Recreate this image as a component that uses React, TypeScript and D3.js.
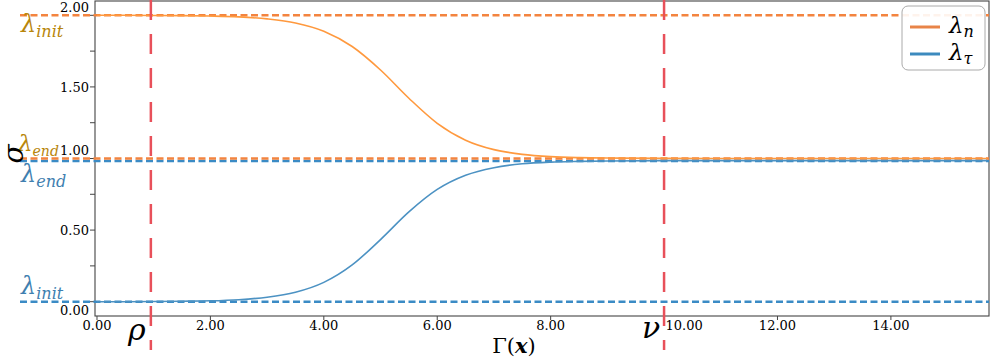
import React, { useEffect, useRef } from "react";
import * as d3 from "d3";

// sample positions along Γ(x) and the two curves
const gammaX = [0, 0.5, 1, 1.5, 2, 2.5, 3, 3.5, 4, 4.5, 5, 5.5, 6, 6.5, 7, 7.5, 8, 8.5, 9, 10, 11, 12, 13, 14, 15, 15.7];
const lambdaN = [2.0, 2.0, 1.999, 1.998, 1.995, 1.989, 1.975, 1.947, 1.889, 1.782, 1.618, 1.421, 1.246, 1.128, 1.062, 1.029, 1.013, 1.006, 1.003, 1.001, 1.0, 1.0, 1.0, 1.0, 1.0, 1.0];
const lambdaT = [0.0, 0.0, 0.001, 0.003, 0.006, 0.014, 0.031, 0.066, 0.135, 0.257, 0.434, 0.627, 0.784, 0.883, 0.936, 0.963, 0.975, 0.98, 0.983, 0.985, 0.985, 0.985, 0.985, 0.985, 0.985, 0.985];

// reference levels
const nInit = 2.0;
const nEnd = 1.0;
const tInit = 0.0;
const tEnd = 0.983;

// vertical markers
const rho = 0.95;
const nu = 10.0;

const xTicks = [0, 2, 4, 6, 8, 10, 12, 14];
const yTicks = [0, 0.25, 0.5, 0.75, 1, 1.25, 1.5, 1.75, 2];
const yLabelTicks = [0, 0.5, 1, 1.5, 2];

const W = 996;
const H = 359;
const FONT = "DejaVu Serif, serif";

const C_ORANGE = "rgb(255,153,62)";
const C_BLUE = "rgb(76,146,195)";
const C_ORANGE_DASH = "#f3843f";
const C_BLUE_DASH = "#3b8bc5";
const C_RED = "#e8505a";
const C_GOLD = "#b8860b";
const C_STEEL = "#3f7fb0";

export default function App() {
  const ref = useRef<SVGSVGElement>(null);

  useEffect(() => {
    const svg = d3.select(ref.current);
    svg.selectAll("*").remove();

    const left = 95, right = 989, top = 1, bottom = 316;
    const x = d3.scaleLinear().domain([-0.035, 15.73]).range([left, right]);
    const y = d3.scaleLinear().domain([-0.1, 2.1]).range([bottom, top]);
    const fmt = d3.format(".2f");

    const g = svg.append("g");

    // axes box
    g.append("rect")
      .attr("x", left).attr("y", top)
      .attr("width", right - left).attr("height", bottom - top)
      .attr("fill", "none").attr("stroke", "#444").attr("stroke-width", 1.1);

    // x ticks
    xTicks.forEach(t => {
      g.append("line")
        .attr("x1", x(t)).attr("x2", x(t))
        .attr("y1", bottom).attr("y2", bottom + 4)
        .attr("stroke", "#444");
      g.append("text")
        .attr("x", x(t) + (t === 10 ? 20 : 0))
        .attr("y", bottom + 14)
        .attr("text-anchor", "middle")
        .attr("font-family", FONT).attr("font-size", 13)
        .text(fmt(t));
    });

    // y ticks
    yTicks.forEach(t => {
      g.append("line")
        .attr("x1", left - 5).attr("x2", left)
        .attr("y1", y(t)).attr("y2", y(t))
        .attr("stroke", "#444");
    });
    const yOff: Record<string, number> = { "2": -8, "1": -9, "0": 8 };
    yLabelTicks.forEach(t => {
      g.append("text")
        .attr("x", left - 6)
        .attr("y", y(t) + (yOff[String(t)] || 0) + 5)
        .attr("text-anchor", "end")
        .attr("font-family", FONT).attr("font-size", 13)
        .text(fmt(t));
    });

    // horizontal reference lines (extend into the margin)
    const hline = (v: number, color: string) =>
      g.append("line")
        .attr("x1", 20).attr("x2", right)
        .attr("y1", y(v)).attr("y2", y(v))
        .attr("stroke", color).attr("stroke-width", 2.5)
        .attr("stroke-dasharray", "7,3.5");
    hline(tInit, C_BLUE_DASH);
    hline(tEnd, C_BLUE_DASH);
    hline(nEnd, C_ORANGE_DASH);
    hline(nInit, C_ORANGE_DASH);

    // curves
    const line = d3.line<number>()
      .x((_, i) => x(gammaX[i]))
      .curve(d3.curveMonotoneX);
    g.append("path")
      .attr("d", line.y(d => y(d))(lambdaN))
      .attr("fill", "none").attr("stroke", C_ORANGE).attr("stroke-width", 1.6);
    g.append("path")
      .attr("d", line.y(d => y(d))(lambdaT))
      .attr("fill", "none").attr("stroke", C_BLUE).attr("stroke-width", 1.6);

    // vertical markers
    [rho, nu].forEach(v => {
      g.append("line")
        .attr("x1", x(v)).attr("x2", x(v))
        .attr("y1", 0).attr("y2", 350)
        .attr("stroke", C_RED).attr("stroke-width", 2.5)
        .attr("stroke-dasharray", "20,14");
    });

    // lambda labels
    const lam = (px: number, py: number, sub: string, color: string, sz = 24, subSz = 16) => {
      const t = g.append("text")
        .attr("x", px).attr("y", py)
        .attr("font-family", FONT).attr("font-style", "italic")
        .attr("fill", color).attr("font-size", sz);
      t.append("tspan").text("λ");
      t.append("tspan").attr("font-size", subSz).attr("dy", 5).text(sub);
    };
    lam(21, 32, "init", C_GOLD);
    lam(18, 151, "end", C_GOLD, 23, 14);
    lam(21, 182, "end", C_STEEL);
    lam(21, 294, "init", C_STEEL);

    // symbols under the axis
    g.append("text")
      .attr("x", x(rho) - 14).attr("y", 340)
      .attr("text-anchor", "middle")
      .attr("font-family", FONT).attr("font-style", "italic").attr("font-size", 30)
      .text("ρ");
    g.append("text")
      .attr("x", x(nu) - 13).attr("y", 338)
      .attr("text-anchor", "middle")
      .attr("font-family", FONT).attr("font-style", "italic").attr("font-size", 30)
      .text("ν");

    // axis titles
    const xl = g.append("text")
      .attr("x", (left + right) / 2 - 28).attr("y", 353)
      .attr("text-anchor", "middle")
      .attr("font-family", FONT).attr("font-size", 21);
    xl.append("tspan").text("Γ(");
    xl.append("tspan").attr("font-weight", "bold").attr("font-style", "italic").text("x");
    xl.append("tspan").text(")");

    g.append("text")
      .attr("transform", "translate(23,154) rotate(-90)")
      .attr("text-anchor", "middle")
      .attr("font-family", FONT).attr("font-style", "italic").attr("font-size", 28)
      .text("σ");

    // legend
    const lg = g.append("g").attr("transform", "translate(902,6)");
    lg.append("rect")
      .attr("width", 83).attr("height", 64).attr("rx", 6)
      .attr("fill", "white").attr("fill-opacity", 0.9)
      .attr("stroke", "#aaa").attr("stroke-width", 1);
    [["n", "rgb(232,132,72)", 21], ["τ", "rgb(60,138,190)", 48]].forEach(([s, c, yy]) => {
      lg.append("line")
        .attr("x1", 8).attr("x2", 38)
        .attr("y1", yy as number).attr("y2", yy as number)
        .attr("stroke", c as string).attr("stroke-width", 3);
      const t = lg.append("text")
        .attr("x", 47).attr("y", (yy as number) + 6)
        .attr("font-family", FONT).attr("font-style", "italic").attr("font-size", 23);
      t.append("tspan").text("λ");
      t.append("tspan").attr("font-size", 16).attr("dy", 4).text(s as string);
    });
  }, []);

  return (
    <svg ref={ref} width={W} height={H}
      style={{ position: "absolute", left: 0, top: 0, background: "white" }} />
  );
}
